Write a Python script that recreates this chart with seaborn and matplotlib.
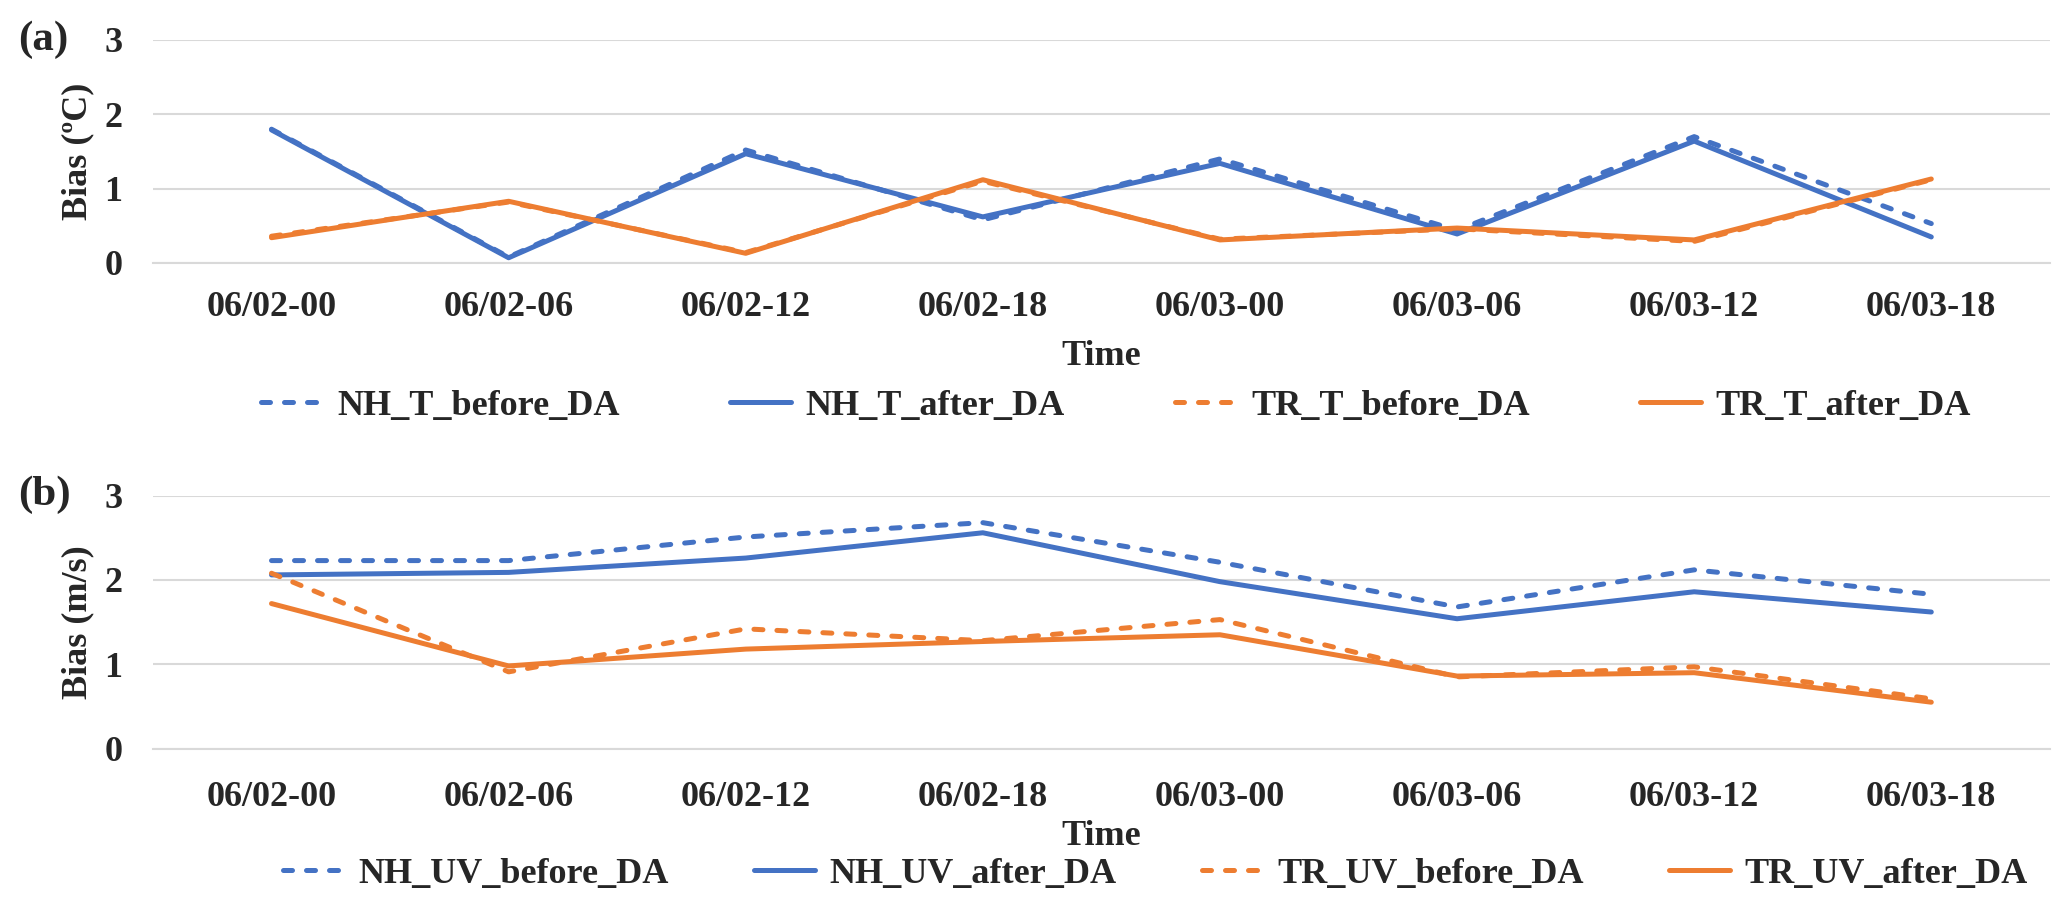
import matplotlib
matplotlib.use("Agg")
import matplotlib.pyplot as plt
from matplotlib.lines import Line2D
from matplotlib.ticker import FixedLocator
import seaborn as sns
import numpy as np
import pandas as pd

# ---------------------------------------------------------------------------
# Data
# ---------------------------------------------------------------------------
categories = ["06/02-00", "06/02-06", "06/02-12", "06/02-18",
              "06/03-00", "06/03-06", "06/03-12", "06/03-18"]

nh_t_before = [1.80, 0.08, 1.52, 0.58, 1.40, 0.44, 1.70, 0.53]
nh_t_after  = [1.79, 0.07, 1.47, 0.62, 1.34, 0.39, 1.64, 0.35]
tr_t_before = [0.36, 0.82, 0.14, 1.10, 0.32, 0.46, 0.29, 1.12]
tr_t_after  = [0.34, 0.83, 0.13, 1.12, 0.31, 0.47, 0.31, 1.13]

nh_uv_before = [2.23, 2.23, 2.51, 2.68, 2.21, 1.68, 2.12, 1.83]
nh_uv_after  = [2.06, 2.09, 2.26, 2.56, 1.98, 1.54, 1.86, 1.62]
tr_uv_before = [2.08, 0.91, 1.42, 1.28, 1.53, 0.85, 0.97, 0.59]
tr_uv_after  = [1.72, 0.98, 1.18, 1.27, 1.35, 0.86, 0.90, 0.55]

t_names  = ["NH_T_before_DA", "NH_T_after_DA", "TR_T_before_DA", "TR_T_after_DA"]
uv_names = ["NH_UV_before_DA", "NH_UV_after_DA", "TR_UV_before_DA", "TR_UV_after_DA"]

# ---------------------------------------------------------------------------
# Style
# ---------------------------------------------------------------------------
BLUE   = "#4472C4"
ORANGE = "#ED7D31"
GRID   = "#d9d9d9"
LW     = 3.6
DASH   = (1.8, 2.8)
FS     = 26

sns.set_style("white")
plt.rcParams["font.family"] = ["Liberation Serif", "DejaVu Serif"]
plt.rcParams["font.weight"] = "bold"
plt.rcParams["axes.labelweight"] = "bold"

colors = [BLUE, BLUE, ORANGE, ORANGE]
styles = [DASH, "", DASH, ""]


def long_frame(names, series):
    rows = []
    for name, vals in zip(names, series):
        for c, v in zip(categories, vals):
            rows.append({"time": c, "bias": v, "series": name})
    return pd.DataFrame(rows)


def draw_panel(ax, names, series, ylabel, tick_pad, time_y, legend_xy, colsp):
    df = long_frame(names, series)
    sns.lineplot(data=df, x="time", y="bias", hue="series", style="series",
                 hue_order=names, style_order=names,
                 palette=dict(zip(names, colors)),
                 dashes=dict(zip(names, styles)),
                 linewidth=LW, sort=False, legend=False, ax=ax,
                 dash_capstyle="round", solid_capstyle="round")

    ax.set_xlim(-0.5, len(categories) - 0.5)
    ax.set_ylim(0, 3)
    ax.set_yticks([0, 1, 2, 3])
    ax.grid(axis="y", color=GRID, linewidth=1.5)
    ax.grid(axis="x", visible=False)
    ax.set_axisbelow(True)
    for side in ["top", "right", "left"]:
        ax.spines[side].set_visible(False)
    ax.spines["bottom"].set_color(GRID)
    ax.spines["bottom"].set_linewidth(1.5)

    ax.xaxis.set_minor_locator(FixedLocator(np.arange(-0.5, len(categories), 1)))
    ax.tick_params(axis="x", which="major", length=0, pad=tick_pad, labelsize=FS)
    ax.tick_params(axis="x", which="minor", length=9, width=1.5, color=GRID,
                   direction="out")
    ax.tick_params(axis="y", length=0, pad=22, labelsize=FS)

    ax.set_xlabel("Time", fontsize=FS, va="center")
    ax.xaxis.set_label_coords(0.5, time_y)
    ax.set_ylabel(ylabel, fontsize=FS, va="center")
    ax.yaxis.set_label_coords(-0.0395, 0.5)

    handles = [Line2D([], [], color=c, linewidth=LW,
                      linestyle=(0, s) if s else "-",
                      dash_capstyle="round", solid_capstyle="round")
               for c, s in zip(colors, styles)]
    ax.legend(handles, names, loc="center", ncol=4, frameon=False,
              fontsize=FS, handlelength=1.7, handletextpad=0.4,
              columnspacing=colsp, bbox_to_anchor=legend_xy,
              bbox_transform=ax.figure.transFigure)


# ---------------------------------------------------------------------------
# Figure
# ---------------------------------------------------------------------------
fig = plt.figure(figsize=(20.67, 9.09), dpi=100)
ax_a = fig.add_axes([0.074, 0.7107, 0.9177, 0.2453])
ax_b = fig.add_axes([0.074, 0.1765, 0.9177, 0.2782])

draw_panel(ax_a, t_names, [nh_t_before, nh_t_after, tr_t_before, tr_t_after],
           "Bias (ºC)", 20, -0.418, (0.540, 1 - 406 / 909), 3.05)
draw_panel(ax_b, uv_names, [nh_uv_before, nh_uv_after, tr_uv_before, tr_uv_after],
           "Bias (m/s)", 23, -0.346, (0.559, 1 - 874 / 909), 2.35)

fig.text(43 / 2067, 1 - 40 / 909, "(a)", fontsize=31, ha="center", va="center")
fig.text(44 / 2067, 1 - 495 / 909, "(b)", fontsize=31, ha="center", va="center")

fig.savefig("out.png", dpi=100, facecolor="white")
plt.close(fig)
